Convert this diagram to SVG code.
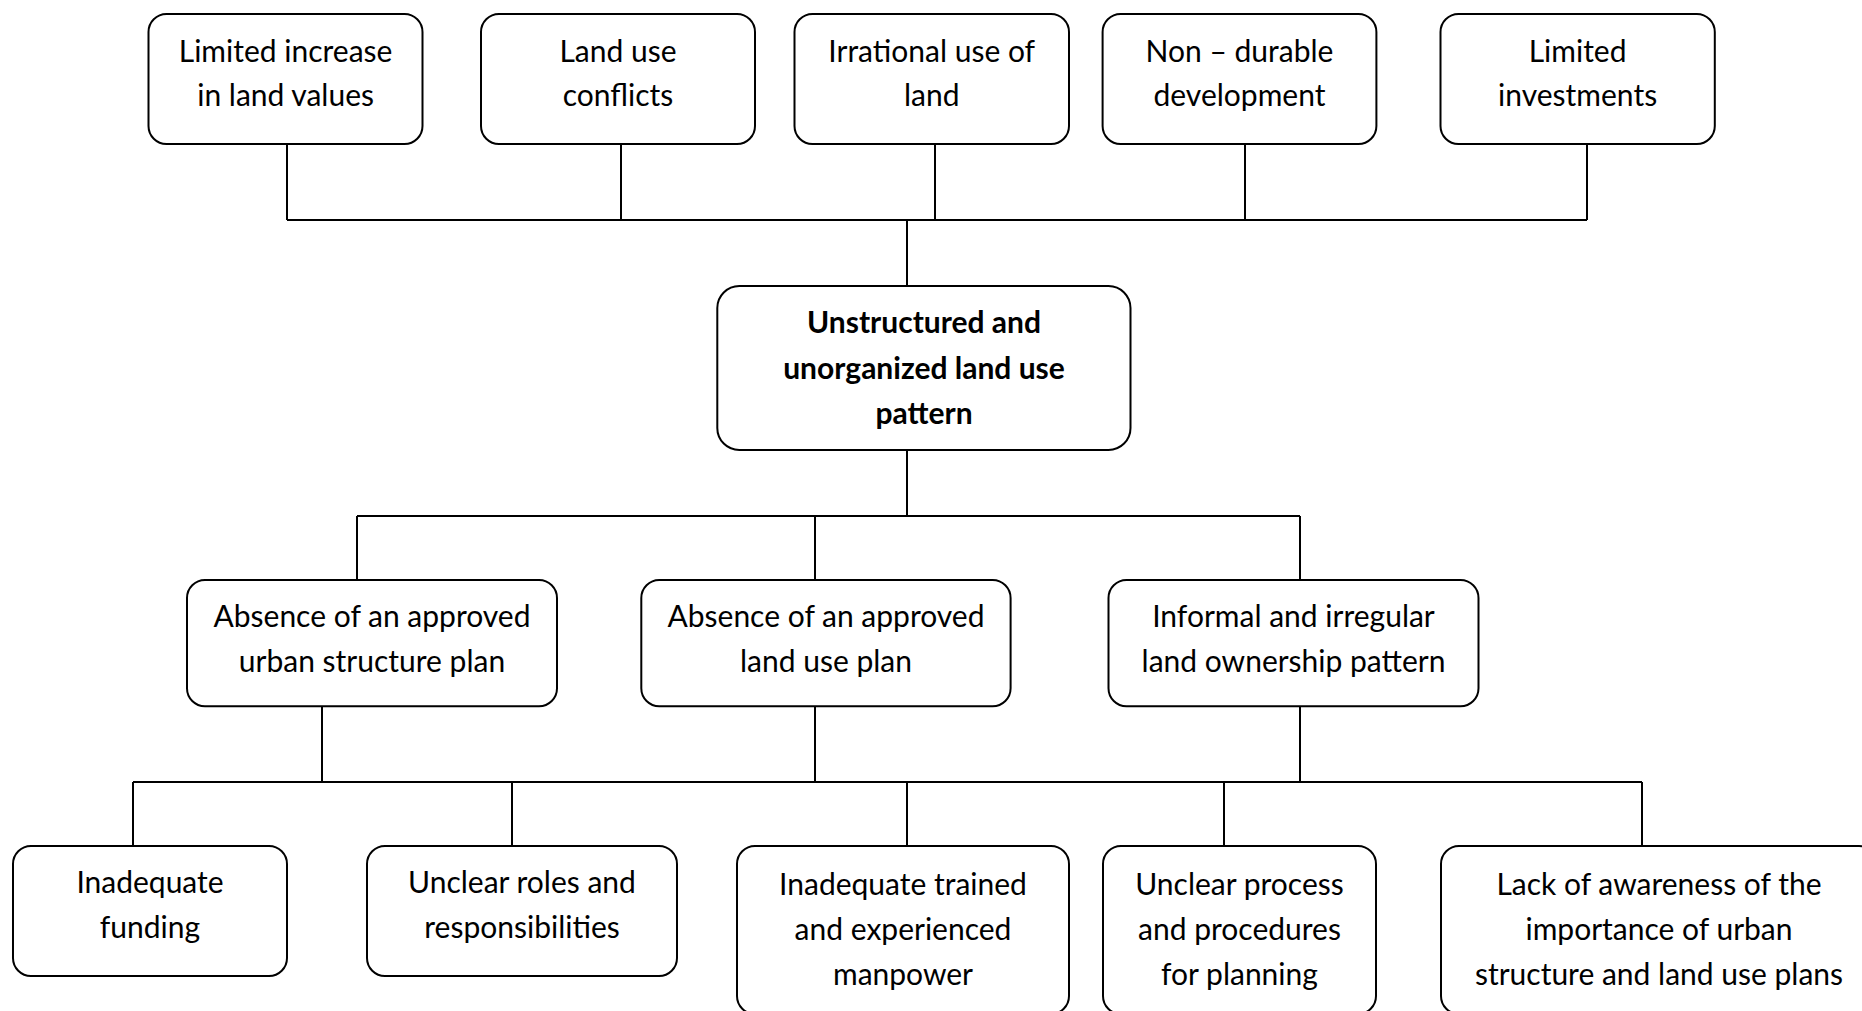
<svg xmlns="http://www.w3.org/2000/svg" width="1862" height="1011" viewBox="0 0 1862 1011">
<style>
.box{fill:#fff;stroke:#000;stroke-width:2}
.ln{fill:none;stroke:#000;stroke-width:2}
text{font-family:Lato,"Open Sans","Liberation Sans",sans-serif;font-size:30px;fill:#000;text-anchor:middle}
.b{font-weight:bold}
</style>
<rect width="1862" height="1011" fill="#fff"/>
<g id="connectors">
<path class="ln" d="M287,144V220M621,144V220M935,144V220M1245,144V220M1587,144V220M287,220H1587M907,220V286"/>
<path class="ln" d="M907,450V516M357,516H1300M357,516V580M815,516V580M1300,516V580"/>
<path class="ln" d="M322,706V782M815,706V782M1300,706V782M133,782H1642M133,782V846M512,782V846M907,782V846M1224,782V846M1642,782V846"/>
</g>
<g id="n1"><rect class="box" x="148.5" y="14" width="274" height="130" rx="18"/><text x="285.6" y="62">Limited increase</text><text x="285.6" y="106">in land values</text></g>
<g id="n2"><rect class="box" x="481" y="14" width="274" height="130" rx="18"/><text x="618" y="62">Land use</text><text x="618" y="106">conflicts</text></g>
<g id="n3"><rect class="box" x="794.5" y="14" width="274.5" height="130" rx="18"/><text x="931.7" y="62">Irrational use of</text><text x="931.7" y="106">land</text></g>
<g id="n4"><rect class="box" x="1102.6" y="14" width="273.8" height="130" rx="18"/><text x="1239.5" y="62">Non – durable</text><text x="1239.5" y="106">development</text></g>
<g id="n5"><rect class="box" x="1440.5" y="14" width="274.3" height="130" rx="18"/><text x="1577.6" y="62">Limited</text><text x="1577.6" y="106">investments</text></g>
<g id="center"><rect class="box" x="717.3" y="286" width="413.2" height="164" rx="22"/><text class="b" x="924" y="333">Unstructured and</text><text class="b" x="924" y="378.5">unorganized land use</text><text class="b" x="924" y="424">pattern</text></g>
<g id="c1"><rect class="box" x="187" y="580" width="370" height="126.3" rx="18"/><text x="372" y="627">Absence of an approved</text><text x="372" y="672">urban structure plan</text></g>
<g id="c2"><rect class="box" x="641.3" y="580" width="369.3" height="126.3" rx="18"/><text x="826" y="627">Absence of an approved</text><text x="826" y="672">land use plan</text></g>
<g id="c3"><rect class="box" x="1108.5" y="580" width="370" height="126.3" rx="18"/><text x="1293.5" y="627">Informal and irregular</text><text x="1293.5" y="672">land ownership pattern</text></g>
<g id="d1"><rect class="box" x="13" y="846" width="274" height="130" rx="18"/><text x="150" y="893">Inadequate</text><text x="150" y="938">funding</text></g>
<g id="d2"><rect class="box" x="367" y="846" width="310" height="130" rx="18"/><text x="522" y="893">Unclear roles and</text><text x="522" y="938">responsibilities</text></g>
<g id="d3"><rect class="box" x="737" y="846" width="332" height="168" rx="18"/><text x="903" y="895">Inadequate trained</text><text x="903" y="940">and experienced</text><text x="903" y="985">manpower</text></g>
<g id="d4"><rect class="box" x="1103" y="846" width="273" height="168" rx="18"/><text x="1239.5" y="895">Unclear process</text><text x="1239.5" y="940">and procedures</text><text x="1239.5" y="985">for planning</text></g>
<g id="d5"><rect class="box" x="1441" y="846" width="436" height="168" rx="18"/><text x="1659" y="895">Lack of awareness of the</text><text x="1659" y="940">importance of urban</text><text x="1659" y="985">structure and land use plans</text></g>
</svg>
